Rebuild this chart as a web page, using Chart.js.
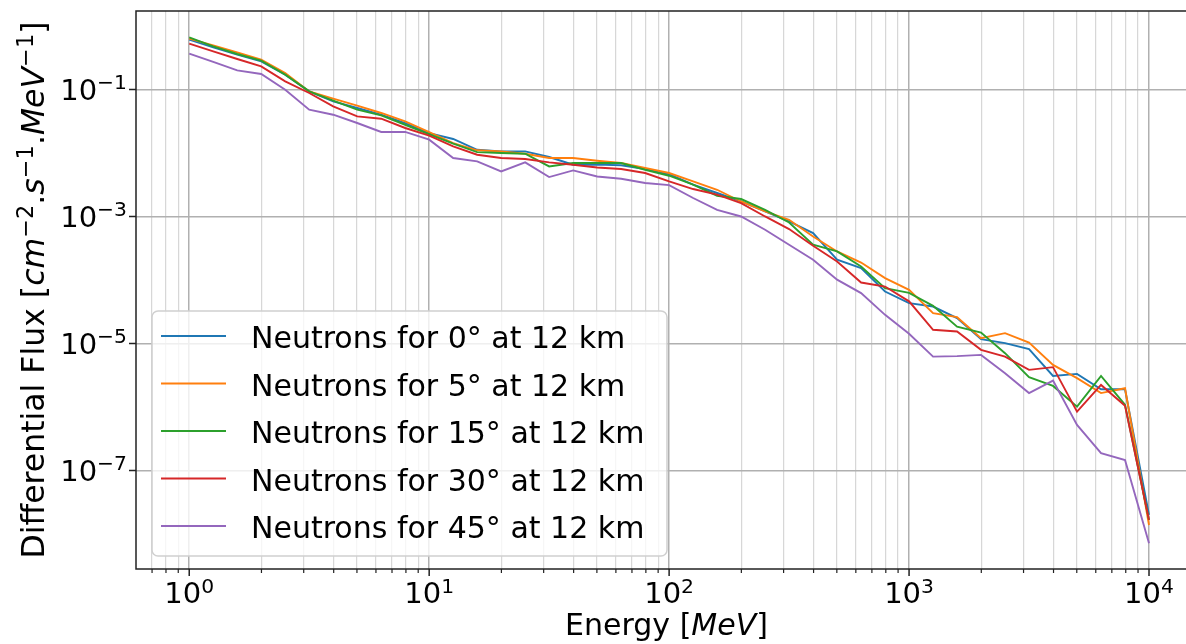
<!DOCTYPE html>
<html>
<head>
<meta charset="utf-8">
<script src="https://cdn.jsdelivr.net/npm/chart.js@4.4.1/dist/chart.umd.min.js"></script>
<style>
  html, body { margin: 0; padding: 0; background: #fff; overflow: hidden; width: 1186px; height: 644px; }
  canvas { display: block; }
</style>
</head>
<body>
<canvas id="fluxChart" width="1210" height="644"></canvas>
<script>
// energies (MeV), 10 points per decade
const energy = [1, 1.259, 1.585, 1.995, 2.512, 3.162, 3.981, 5.012, 6.310, 7.943,
  10, 12.59, 15.85, 19.95, 25.12, 31.62, 39.81, 50.12, 63.10, 79.43,
  100, 125.9, 158.5, 199.5, 251.2, 316.2, 398.1, 501.2, 631.0, 794.3,
  1000, 1259, 1585, 1995, 2512, 3162, 3981, 5012, 6310, 7943, 10000];

// differential flux
const flux0 = [0.609, 0.460, 0.353, 0.277, 0.171, 0.0932, 0.0649, 0.0511, 0.0400, 0.0296,
  0.0205, 0.0166, 0.0112, 0.0106, 0.0106, 0.00863, 0.00652, 0.00655, 0.00640, 0.00558,
  0.00462, 0.00316, 0.00234, 0.00172, 0.00120, 0.000833, 0.000547, 0.000208, 0.000154, 6.57e-5,
  4.31e-5, 3.81e-5, 2.50e-5, 1.17e-5, 1.01e-5, 8.12e-6, 3.08e-6, 3.31e-6, 1.90e-6, 1.90e-6, 1.99e-8];
const flux5 = [0.631, 0.495, 0.384, 0.294, 0.182, 0.0932, 0.0716, 0.0555, 0.0426, 0.0314,
  0.0212, 0.0143, 0.0110, 0.0106, 0.00972, 0.00832, 0.00832, 0.00754, 0.00694, 0.00579,
  0.00483, 0.00356, 0.00263, 0.00172, 0.00120, 0.000886, 0.000483, 0.000281, 0.000188, 0.000107,
  6.99e-5, 3.00e-5, 2.59e-5, 1.21e-5, 1.45e-5, 1.03e-5, 4.59e-6, 2.84e-6, 1.65e-6, 1.97e-6, 1.38e-8];
const flux15 = [0.662, 0.477, 0.362, 0.284, 0.171, 0.0932, 0.0665, 0.0480, 0.0390, 0.0278,
  0.0197, 0.0140, 0.0103, 0.00997, 0.00972, 0.00613, 0.00694, 0.00694, 0.00694, 0.00544,
  0.00438, 0.00316, 0.00212, 0.00188, 0.00127, 0.000803, 0.000358, 0.000281, 0.000163, 7.43e-5,
  6.27e-5, 3.91e-5, 1.84e-5, 1.48e-5, 7.02e-6, 2.94e-6, 2.14e-6, 1.01e-6, 3.08e-6, 1.08e-6, 1.66e-8];
const flux30 = [0.526, 0.398, 0.302, 0.231, 0.134, 0.0880, 0.0541, 0.0376, 0.0346, 0.0247,
  0.0188, 0.0127, 0.00937, 0.00832, 0.00802, 0.00709, 0.00652, 0.00591, 0.00558, 0.00483,
  0.00356, 0.00270, 0.00220, 0.00162, 0.000999, 0.000632, 0.000345, 0.000195, 9.11e-5, 7.87e-5,
  4.60e-5, 1.64e-5, 1.54e-5, 7.92e-6, 6.21e-6, 3.83e-6, 4.23e-6, 8.44e-7, 2.22e-6, 1.04e-6, 1.66e-8];
const flux45 = [0.366, 0.271, 0.200, 0.175, 0.0992, 0.0480, 0.0400, 0.0296, 0.0214, 0.0214,
  0.0162, 0.00832, 0.00735, 0.00511, 0.00709, 0.00417, 0.00530, 0.00426, 0.00392, 0.00336,
  0.00311, 0.00195, 0.00127, 0.000999, 0.000616, 0.000358, 0.000208, 0.000101, 6.20e-5, 2.82e-5,
  1.42e-5, 6.2e-6, 6.3e-6, 6.6e-6, 3.40e-6, 1.65e-6, 2.60e-6, 5.21e-7, 1.87e-7, 1.46e-7, 7.11e-9];

const seriesLabels = ['Neutrons for 0° at 12 km', 'Neutrons for 5° at 12 km', 'Neutrons for 15° at 12 km',
  'Neutrons for 30° at 12 km', 'Neutrons for 45° at 12 km'];
const seriesValues = [flux0, flux5, flux15, flux30, flux45];
const seriesColors = ['#1f77b4', '#ff7f0e', '#2ca02c', '#d62728', '#9467bd'];

// axis ticks
const xMajorTicks = [1, 10, 100, 1000, 10000];
const xTickExps = ['0', '1', '2', '3', '4'];
const yMajorTicks = [1e-7, 1e-5, 1e-3, 1e-1];
const yTickExps = ['−7', '−5', '−3', '−1'];
const xMinorTicks = [0.7, 0.8, 0.9].concat(
  [1, 10, 100, 1000].flatMap(d => [2, 3, 4, 5, 6, 7, 8, 9].map(m => m * d)));

const FONT = '"DejaVu Sans", sans-serif';

// draw a row of text pieces (regular / italic / superscript), centred on x
function drawRuns(ctx, runs, x, y, align) {
  let total = 0;
  runs.forEach(r => { ctx.font = r.font; r.w = ctx.measureText(r.t).width; total += r.w; });
  let cx = align === 'right' ? x - total : x - total / 2;
  ctx.textAlign = 'left';
  ctx.textBaseline = 'alphabetic';
  runs.forEach(r => {
    ctx.font = r.font;
    ctx.fillText(r.t, cx, y - (r.dy || 0));
    cx += r.w;
  });
}

const mplDecor = {
  id: 'mplDecor',
  afterDraw(chart) {
    const { ctx, chartArea: a, scales: { x, y } } = chart;
    ctx.save();

    // spines
    ctx.strokeStyle = '#222';
    ctx.lineWidth = 1.5;
    ctx.strokeRect(a.left, a.top, a.right - a.left, a.bottom - a.top);

    // tick marks
    ctx.beginPath();
    xMajorTicks.forEach(v => {
      const px = x.getPixelForValue(v);
      ctx.moveTo(px, a.bottom); ctx.lineTo(px, a.bottom + 7);
    });
    yMajorTicks.forEach(v => {
      const py = y.getPixelForValue(v);
      ctx.moveTo(a.left, py); ctx.lineTo(a.left - 7, py);
    });
    ctx.stroke();
    ctx.beginPath();
    ctx.lineWidth = 1.2;
    xMinorTicks.forEach(v => {
      const px = x.getPixelForValue(v);
      ctx.moveTo(px, a.bottom); ctx.lineTo(px, a.bottom + 4);
    });
    ctx.stroke();

    // tick labels
    ctx.fillStyle = '#000';
    const base = '29px ' + FONT, sup = '20.3px ' + FONT;
    xMajorTicks.forEach((v, i) => {
      drawRuns(ctx, [{ t: '10', font: base }, { t: xTickExps[i], font: sup, dy: 10.5 }],
        x.getPixelForValue(v), 603, 'center');
    });
    yMajorTicks.forEach((v, i) => {
      drawRuns(ctx, [{ t: '10', font: base }, { t: yTickExps[i], font: sup, dy: 10.5 }],
        a.left - 9, y.getPixelForValue(v) + 10.5, 'right');
    });

    // axis titles
    const reg = '30px ' + FONT, ital = 'italic 30px ' + FONT;
    drawRuns(ctx, [{ t: 'Energy [', font: reg }, { t: 'MeV', font: ital }, { t: ']', font: reg }],
      (a.left + a.right) / 2, 635, 'center');
    const yreg = '31.5px ' + FONT, yital = 'italic 31.5px ' + FONT, ysup = '22.5px ' + FONT;
    ctx.save();
    ctx.translate(44, (a.top + a.bottom) / 2);
    ctx.rotate(-Math.PI / 2);
    drawRuns(ctx, [
      { t: 'Differential Flux [', font: yreg },
      { t: 'cm', font: yital }, { t: '−2', font: ysup, dy: 11.5 },
      { t: '.', font: yreg }, { t: 's', font: yital }, { t: '−1', font: ysup, dy: 11.5 },
      { t: '.', font: yreg }, { t: 'MeV', font: yital }, { t: '−1', font: ysup, dy: 11.5 },
      { t: ']', font: yreg }
    ], 0, 0, 'center');
    ctx.restore();

    // legend
    const lx = 152, ly = 311, lw = 515, lh = 245;
    ctx.beginPath();
    ctx.roundRect(lx, ly, lw, lh, 6);
    ctx.fillStyle = 'rgba(255,255,255,0.8)';
    ctx.fill();
    ctx.strokeStyle = '#d0d0d0';
    ctx.lineWidth = 1.5;
    ctx.stroke();
    seriesLabels.forEach((lab, i) => {
      const ry = 336 + i * 47.5;
      ctx.strokeStyle = seriesColors[i];
      ctx.lineWidth = 1.9;
      ctx.beginPath();
      ctx.moveTo(161, ry); ctx.lineTo(226, ry);
      ctx.stroke();
      ctx.fillStyle = '#000';
      ctx.font = reg;
      ctx.textAlign = 'left';
      ctx.fillText(lab, 251, ry + 12);
    });

    ctx.restore();
  }
};

const isMajor = v => Math.abs(Math.log10(v) - Math.round(Math.log10(v))) < 1e-6;

new Chart(document.getElementById('fluxChart'), {
  type: 'line',
  data: {
    datasets: seriesValues.map((vals, i) => ({
      label: seriesLabels[i],
      data: energy.map((e, k) => ({ x: e, y: vals[k] })),
      borderColor: seriesColors[i],
      backgroundColor: seriesColors[i],
      borderWidth: 1.9,
      pointRadius: 0,
      tension: 0,
      fill: false,
      order: seriesValues.length - i
    }))
  },
  options: {
    responsive: false,
    animation: false,
    devicePixelRatio: 1,
    layout: { padding: { top: 11, right: 13, left: 0, bottom: 0 } },
    plugins: { legend: { display: false }, tooltip: { enabled: false } },
    scales: {
      x: {
        type: 'logarithmic',
        min: 0.631,
        max: 15849,
        border: { display: false },
        ticks: { display: false },
        grid: {
          drawTicks: false,
          color: c => isMajor(c.tick.value) ? '#b0b0b0' : 'rgba(176,176,176,0.5)',
          lineWidth: c => isMajor(c.tick.value) ? 1.5 : 1.2
        },
        afterBuildTicks: axis => {
          axis.ticks = xMinorTicks.concat(xMajorTicks).sort((p, q) => p - q).map(v => ({ value: v }));
        },
        afterFit: axis => { axis.height = 75; }
      },
      y: {
        type: 'logarithmic',
        min: 2.8e-9,
        max: 1.72,
        border: { display: false },
        ticks: { display: false },
        grid: { drawTicks: false, color: '#b0b0b0', lineWidth: 1.5 },
        afterBuildTicks: axis => { axis.ticks = yMajorTicks.map(v => ({ value: v })); },
        afterFit: axis => { axis.width = 136; }
      }
    }
  },
  plugins: [mplDecor]
});
</script>
</body>
</html>
